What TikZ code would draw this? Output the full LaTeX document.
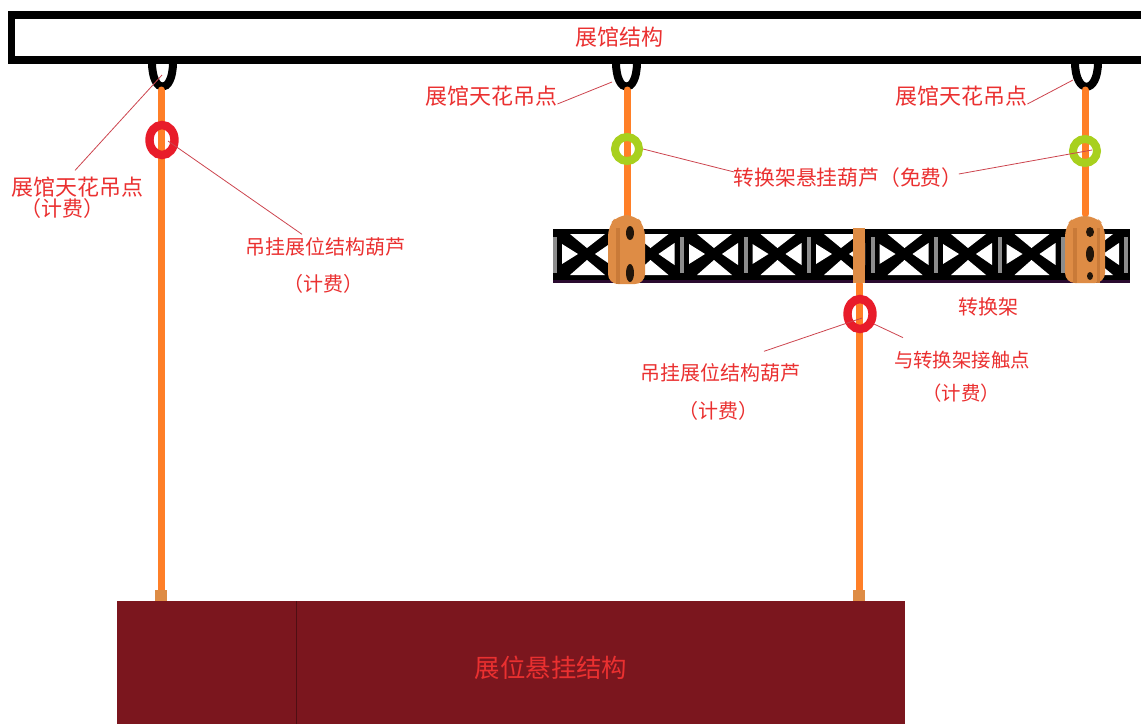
\documentclass[tikz,border=0pt]{standalone}
\usepackage{fontspec}
\setmainfont{Noto Sans CJK SC}
\usetikzlibrary{positioning, calc, shapes.geometric}
\definecolor{rod}{HTML}{FF7F27}
\definecolor{clamp}{HTML}{DE8C45}
\definecolor{clampdark}{HTML}{C97A38}
\definecolor{labelred}{HTML}{EA3030}
\definecolor{leader}{HTML}{CC444E}
\definecolor{boothred}{HTML}{7B161E}
\definecolor{ringred}{HTML}{E81C2A}
\definecolor{ringgreen}{HTML}{A8D01E}
\definecolor{trussedge}{HTML}{2A0A30}
\tikzset{
    note/.style={text=labelred,inner sep=0pt,font=\fontsize{10}{12}\selectfont},
    bignote/.style={text=labelred,inner sep=0pt,font=\fontsize{11}{13}\selectfont},
    leaderline/.style={leader,line width=0.4pt},
    rodline/.style={rod,line width=3.5pt,line cap=round},
    hookline/.style={black,line width=4pt},
    redring/.style={draw=ringred,line width=4.2pt,ellipse,minimum width=12.5pt,minimum height=15pt,inner sep=0pt},
    greenring/.style={draw=ringgreen,circle,line width=4pt,minimum size=12pt,inner sep=0pt},
}
\begin{document}
\begin{tikzpicture}[x=0.5pt,y=-0.5pt]
    \useasboundingbox (0,0) rectangle (1141,724);
    \draw[black,line width=3.6pt] (11.5,15) rectangle (1160,60);
    \node[bignote] (hall) at (619,37) {展馆结构};

    \draw[hookline] (152,62) .. controls (152,95) and (173,95) .. (173,62);
    \draw[hookline] (616,62) .. controls (616,95) and (637,95) .. (637,62);
    \draw[hookline] (1075,62) .. controls (1075,95) and (1098,95) .. (1098,62);

    \fill[black] (553,229) rectangle (1130,282);
    \fill[trussedge] (553,280) rectangle (1130,283);
    \foreach \px in {555,618.5,682,745.5,809,872.5,936,999.5,1063} {
        \begin{scope}[shift={(\px,229)}]
            \fill[black!45] (-2,8) rectangle (2,44);
            \fill[white] (15,5) -- (50,5) -- (32,19) -- cycle;
            \fill[white] (15,46) -- (50,46) -- (32,31) -- cycle;
            \fill[white] (7,15) -- (7,35) -- (23,25) -- cycle;
            \fill[white] (56,14) -- (56,36) -- (40,25) -- cycle;
        \end{scope}
    }
    \fill[black!45] (1124,237) rectangle (1128,273);

    \coordinate (leftTop) at (161,90);
    \coordinate (leftEnd) at (161,598);
    \coordinate (midTop) at (627,90);
    \coordinate (midEnd) at (627,216);
    \coordinate (rightTop) at (1085,90);
    \coordinate (rightEnd) at (1085,214);
    \coordinate (crossTop) at (859,284);
    \coordinate (crossEnd) at (859,598);
    \draw[rodline] (leftTop) -- (leftEnd);
    \draw[rodline] (midTop) -- (midEnd);
    \draw[rodline] (rightTop) -- (rightEnd);
    \draw[rodline] (crossTop) -- (crossEnd);

    \fill[clamp,rounded corners=5pt] (608,284) -- (608,226) -- (618,215) -- (635,215) -- (645,226) -- (645,284) -- cycle;
    \fill[clampdark] (616,228) rectangle (620,284);
    \fill[black!85!clamp] (630,233) ellipse (4 and 7);
    \fill[black!85!clamp] (630,273) ellipse (4 and 9);
    \fill[clamp,rounded corners=5pt] (1065,283) -- (1065,226) -- (1075,216) -- (1095,216) -- (1105,226) -- (1105,283) -- cycle;
    \fill[clampdark] (1073,228) rectangle (1077,283);
    \fill[clampdark] (1097,228) rectangle (1100,283);
    \fill[black!85!clamp] (1090,232) ellipse (4 and 5);
    \fill[black!85!clamp] (1090,254) ellipse (4 and 8);
    \fill[black!85!clamp] (1090,276) ellipse (3 and 4);
    \fill[clamp] (853,228) rectangle (865,283);
    \fill[clamp] (155,590) rectangle (167,602);
    \fill[clamp] (853,590) rectangle (865,602);

    \fill[boothred] (117,601) rectangle (905,724);
    \draw[black!35!boothred,line width=0.4pt] (296,601) -- (296,724);
    \node[note,font=\fontsize{12.7}{15}\selectfont] (booth) at (551,668) {展位悬挂结构};

    \node[redring] (ringLeft) at (162,140) {};
    \node[redring] (ringCross) at (860,314) {};
    \node[greenring] (ringMid) at (627,149) {};
    \node[greenring] (ringRight) at (1085,151) {};

    \coordinate (hookLeft) at (162,75);
    \coordinate (hookMid) at (612,82);
    \coordinate (hookRight) at (1073,80);
    \node[bignote] (pointLeft) at (77,187) {展馆天花吊点};
    \node[note,font=\fontsize{10.5}{12}\selectfont] (feeLeft) at (62,209) {（计费）};
    \node[note] (hoistLeft) at (325,247) {吊挂展位结构葫芦};
    \node[note] (hoistLeftFee) at (323,284) {（计费）};
    \node[bignote] (pointMid) at (491,96) {展馆天花吊点};
    \node[bignote] (pointRight) at (961,96) {展馆天花吊点};
    \node[bignote,font=\fontsize{10.4}{13}\selectfont] (hoistFree) at (848,178) {转换架悬挂葫芦（免费）};
    \node[note] (truss) at (988,307) {转换架};
    \node[note] (hoistCross) at (720,373) {吊挂展位结构葫芦};
    \node[note] (hoistCrossFee) at (718,411) {（计费）};
    \node[note,font=\fontsize{9.7}{12}\selectfont] (contact) at (962,360) {与转换架接触点};
    \node[note,font=\fontsize{9.7}{12}\selectfont] (contactFee) at (961,393) {（计费）};

    \draw[leaderline] (hookLeft) -- ($(pointLeft.north)+(-2,-6)$);
    \draw[leaderline] ($(ringLeft.center)+(6,1)$) -- ($(hoistLeft.north)+(-23,-3)$);
    \draw[leaderline] (hookMid) -- ($(pointMid.east)+(0,8)$);
    \draw[leaderline] (hookRight) -- ($(pointRight.east)+(0,8)$);
    \draw[leaderline] (ringMid.east) -- ($(hoistFree.west)+(1,-6)$);
    \draw[leaderline] ($(ringRight.center)+(7,-1)$) -- ($(hoistFree.east)+(-4,-4)$);
    \draw[leaderline] ($(ringCross.center)+(2,4)$) -- ($(hoistCross.north)+(44,-12)$);
    \draw[leaderline] ($(ringCross.center)+(14,10)$) -- ($(contact.north)+(-59,-13)$);
\end{tikzpicture}
\end{document}
